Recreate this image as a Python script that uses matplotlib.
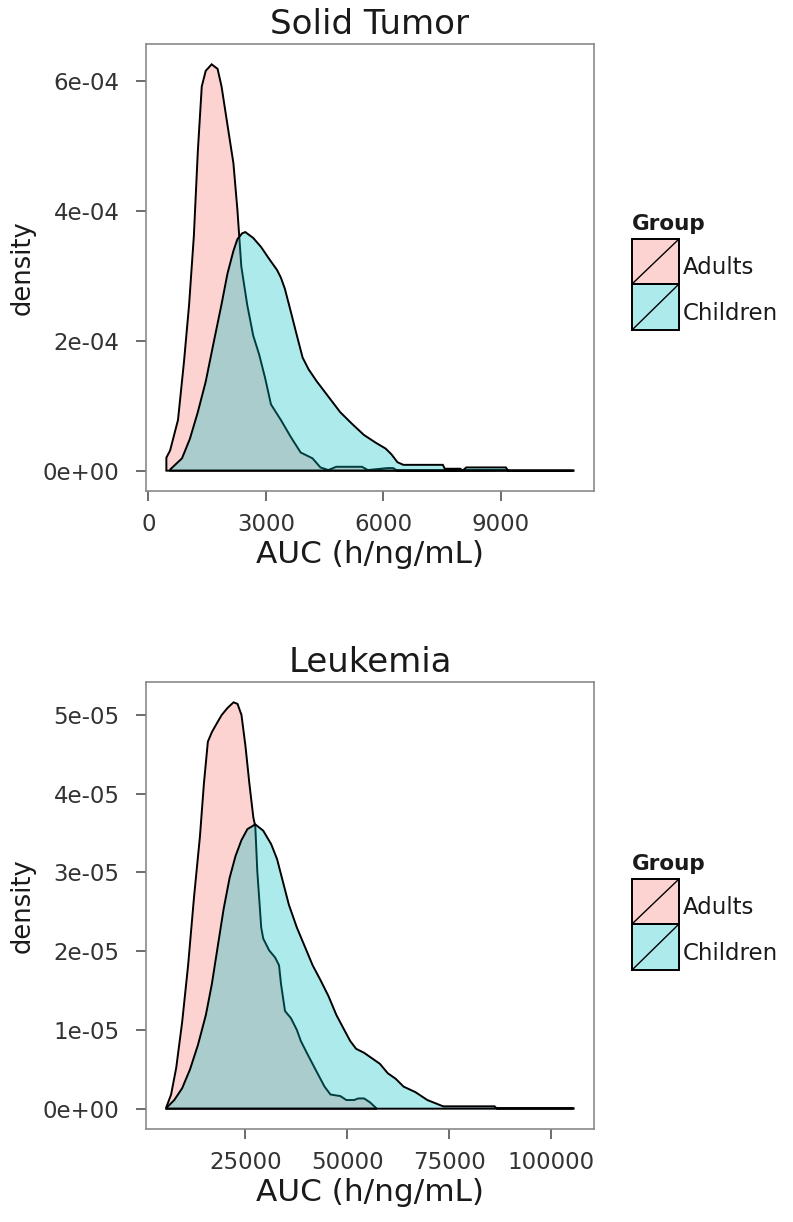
import matplotlib
matplotlib.use("Agg")
import matplotlib.pyplot as plt
import numpy as np
from matplotlib.patches import Rectangle
from matplotlib.lines import Line2D

plt.rcParams['font.family'] = ['DejaVu Sans']

# ---------------- data ----------------
groups = ["Adults", "Children"]
group_colors = ["#F8766D", "#00BFC4"]
fill_alpha = 0.32

# Solid Tumor (x: AUC, y: density)
solid_adults_x = [460, 555, 757, 909, 1040, 1162, 1263, 1364, 1465, 1616, 1768, 1869, 2020,
                  2172, 2273, 2374, 2525, 2677, 2828, 2980, 3131, 3384, 3636, 3889, 4192,
                  4394, 4596, 4798, 5454, 5605, 6100, 6250, 6350, 8000, 9150, 9200]
solid_adults_y = [0.20, 0.31, 0.78, 1.67, 2.55, 3.61, 4.91, 5.91, 6.15, 6.25, 6.18, 5.91, 5.32,
                  4.73, 4.02, 3.14, 2.55, 2.08, 1.79, 1.43, 1.02, 0.78, 0.52, 0.28, 0.19,
                  0.05, 0.01, 0.06, 0.06, 0.01, 0.04, 0.04, 0.005, 0.005, 0.01, 0.0]
solid_children_x = [560, 859, 1061, 1263, 1465, 1667, 1869, 2020, 2172, 2273, 2394, 2475, 2677,
                    2879, 3081, 3283, 3384, 3485, 3636, 3788, 3939, 4091, 4293, 4596, 4899,
                    5202, 5504, 5807, 6059, 6210, 6361, 6512, 7520, 7570, 7970, 8020, 8120,
                    9130, 9180, 10860]
solid_children_y = [0.02, 0.19, 0.49, 0.90, 1.37, 1.97, 2.56, 3.03, 3.38, 3.56, 3.65, 3.67, 3.58,
                    3.44, 3.26, 3.09, 2.97, 2.80, 2.45, 2.09, 1.74, 1.56, 1.38, 1.14, 0.90,
                    0.72, 0.55, 0.43, 0.34, 0.25, 0.13, 0.09, 0.09, 0.03, 0.03, 0.0, 0.05,
                    0.05, 0.003, 0.003]
solid_scale = 1e-4

# Leukemia
leuk_adults_x = [5600, 6760, 8020, 9475, 10930, 12390, 13840, 14810, 15780, 16750, 17720, 19180,
                 20630, 22080, 23050, 24020, 24990, 25960, 26930, 27420, 27900, 28870, 29360,
                 30820, 32270, 33240, 33730, 34700, 36150, 37610, 38580, 40040, 42460, 44400,
                 45860, 48280, 49740, 51680, 52650, 54110, 55560, 57020]
leuk_adults_y = [0.02, 0.18, 0.52, 1.10, 1.82, 2.69, 3.46, 4.13, 4.66, 4.78, 4.87, 5.00,
                 5.09, 5.16, 5.14, 5.00, 4.61, 4.13, 3.70, 3.58, 3.02, 2.30, 2.16,
                 2.01, 1.92, 1.82, 1.58, 1.24, 1.15, 1.00, 0.86, 0.71, 0.47, 0.28,
                 0.18, 0.16, 0.11, 0.11, 0.13, 0.13, 0.08, 0.01]
leuk_children_x = [5600, 7540, 9475, 11410, 13350, 15290, 16750, 18200, 19660, 21110, 22570,
                   24020, 25480, 27420, 29360, 31300, 32750, 34200, 35650, 37610, 39550,
                   41490, 43430, 45360, 47300, 49240, 50690, 52150, 54090, 56030, 57970,
                   59910, 61850, 63790, 66700, 69610, 72520, 73490, 86100, 86600, 105500]
leuk_children_y = [0.01, 0.11, 0.26, 0.50, 0.81, 1.19, 1.58, 2.06, 2.54, 2.93, 3.21,
                   3.41, 3.55, 3.61, 3.53, 3.36, 3.17, 2.88, 2.59, 2.30, 2.06,
                   1.82, 1.63, 1.43, 1.19, 1.00, 0.86, 0.76, 0.71, 0.64, 0.57,
                   0.45, 0.38, 0.28, 0.21, 0.11, 0.05, 0.03, 0.03, 0.005, 0.005]
leuk_scale = 1e-5

solid_xticks = [0, 3000, 6000, 9000]
solid_yticks = [0, 2e-4, 4e-4, 6e-4]
solid_yticklabels = ["0e+00", "2e-04", "4e-04", "6e-04"]
leuk_xticks = [25000, 50000, 75000, 100000]
leuk_yticks = [0, 1e-5, 2e-5, 3e-5, 4e-5, 5e-5]
leuk_yticklabels = ["0e+00", "1e-05", "2e-05", "3e-05", "4e-05", "5e-05"]

titles = ["Solid Tumor", "Leukemia"]
xlabel = "AUC (h/ng/mL)"
ylabel = "density"
legend_title = "Group"

# ---------------- figure ----------------
W, H = 793, 1222
fig = plt.figure(figsize=(W / 100, H / 100), dpi=100)
fig.patch.set_facecolor("white")


def px_rect(l, t, r, b):
    return [l / W, 1 - b / H, (r - l) / W, (b - t) / H]


ax_top = fig.add_axes(px_rect(146, 44, 594, 491))
ax_bot = fig.add_axes(px_rect(146, 682, 594, 1129))

tick_color = "#333333"
border_color = "#8a8a8a"


def draw_density(ax, xs, ys, scale, color):
    x = np.asarray(xs, dtype=float)
    y = np.asarray(ys, dtype=float) * scale
    px = np.concatenate([x, x[::-1]])
    py = np.concatenate([y, np.zeros_like(y)])
    ax.fill(px, py, facecolor=color, alpha=fill_alpha, edgecolor="none", zorder=2)
    ax.fill(px, py, facecolor="none", edgecolor="black", linewidth=1.4, zorder=2)


def style_axes(ax, title, xticks, yticks, yticklabels, all_x, all_y):
    xmin, xmax = min(all_x), max(all_x)
    ymin, ymax = 0.0, max(all_y)
    dx = (xmax - xmin) * 0.05
    dy = (ymax - ymin) * 0.05
    ax.set_xlim(xmin - dx, xmax + dx)
    ax.set_ylim(ymin - dy, ymax + dy)
    ax.set_xticks(xticks)
    ax.set_xticklabels([str(t) for t in xticks])
    ax.set_yticks(yticks)
    ax.set_yticklabels(yticklabels)
    ax.tick_params(axis="both", direction="out", length=7, width=1.1, color="#444444",
                   labelsize=16.5, labelcolor=tick_color)
    ax.tick_params(axis="x", pad=9)
    ax.tick_params(axis="y", pad=12)
    for s in ax.spines.values():
        s.set_color(border_color)
        s.set_linewidth(1.2)
    ax.set_title(title, fontsize=24.5, color="#1a1a1a", pad=7)
    ax.set_xlabel(xlabel, fontsize=22.4, color="#1a1a1a", labelpad=3)
    ax.set_ylabel(ylabel, fontsize=18.5, color="#1a1a1a", labelpad=5.5)
    ax.grid(False)


draw_density(ax_top, solid_adults_x, solid_adults_y, solid_scale, group_colors[0])
draw_density(ax_top, solid_children_x, solid_children_y, solid_scale, group_colors[1])
style_axes(ax_top, titles[0], solid_xticks, solid_yticks, solid_yticklabels,
           solid_adults_x + solid_children_x,
           [v * solid_scale for v in solid_adults_y + solid_children_y])

draw_density(ax_bot, leuk_adults_x, leuk_adults_y, leuk_scale, group_colors[0])
draw_density(ax_bot, leuk_children_x, leuk_children_y, leuk_scale, group_colors[1])
style_axes(ax_bot, titles[1], leuk_xticks, leuk_yticks, leuk_yticklabels,
           leuk_adults_x + leuk_children_x,
           [v * leuk_scale for v in leuk_adults_y + leuk_children_y])


# ---------------- legends ----------------
def draw_legend(offset):
    fig.text(632 / W, 1 - (230 + offset) / H, legend_title, fontsize=15.5,
             fontweight="bold", color="#1a1a1a", ha="left", va="baseline")
    key_l, key_r = 632, 679
    tops = [239, 284]
    bots = [284, 330]
    label_y = [268, 313]
    for i, g in enumerate(groups):
        t = tops[i] + offset
        b = bots[i] + offset
        rect = Rectangle((key_l / W, 1 - b / H), (key_r - key_l) / W, (b - t) / H,
                         transform=fig.transFigure, facecolor=group_colors[i],
                         alpha=fill_alpha, edgecolor="none")
        fig.add_artist(rect)
        rect2 = Rectangle((key_l / W, 1 - b / H), (key_r - key_l) / W, (b - t) / H,
                          transform=fig.transFigure, facecolor="none",
                          edgecolor="black", linewidth=1.4)
        fig.add_artist(rect2)
        diag = Line2D([key_l / W, key_r / W], [1 - b / H, 1 - t / H],
                      transform=fig.transFigure, color="black", linewidth=1.0)
        fig.add_artist(diag)
        fig.text(683 / W, 1 - (label_y[i] + offset) / H, g, fontsize=16.5,
                 color="#1a1a1a", ha="left", va="center")


draw_legend(0)
draw_legend(640)

fig.savefig("out.png", dpi=100, facecolor="white")
